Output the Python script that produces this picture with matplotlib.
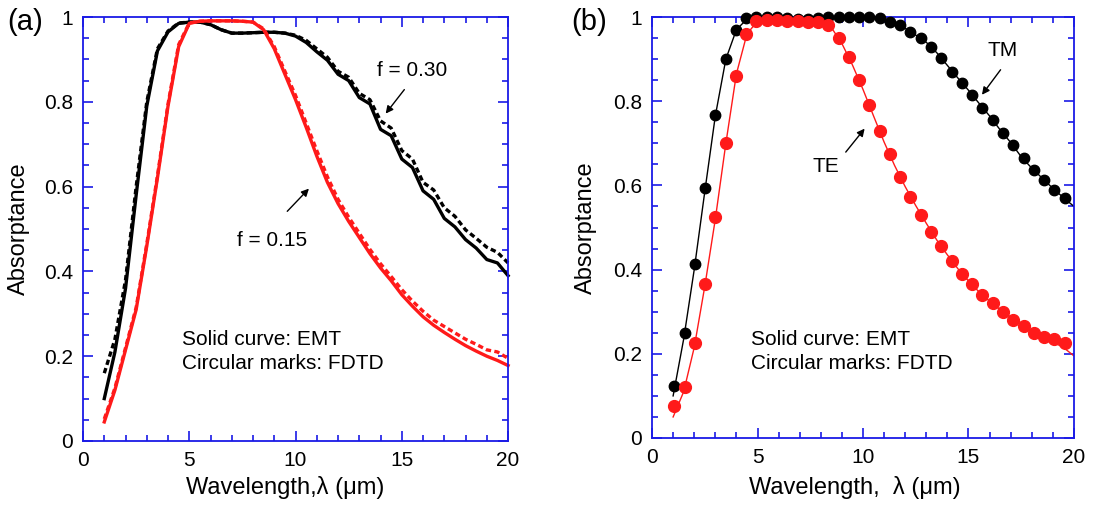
import numpy as np
import matplotlib
matplotlib.use('Agg')
import matplotlib.pyplot as plt
from matplotlib.ticker import MultipleLocator, FuncFormatter

plt.rcParams['font.family'] = ['Liberation Sans', 'DejaVu Sans']

# (a) EMT (solid) vs FDTD (dashed), two filling ratios
wl_a = np.arange(1.0, 20.01, 0.5)
a_f30_emt = [0.10, 0.21, 0.36, 0.58, 0.79, 0.92, 0.965, 0.985, 0.988, 0.988,
             0.982, 0.97, 0.962, 0.962, 0.963, 0.964, 0.964, 0.962, 0.955, 0.94,
             0.918, 0.898, 0.865, 0.85, 0.81, 0.795, 0.735, 0.72, 0.665, 0.645,
             0.59, 0.57, 0.525, 0.505, 0.475, 0.455, 0.428, 0.42, 0.39]
a_f30_fdtd = [0.16, 0.24, 0.38, 0.60, 0.80, 0.925, 0.967, 0.986, 0.988, 0.988,
              0.982, 0.97, 0.962, 0.962, 0.963, 0.964, 0.964, 0.962, 0.957, 0.945,
              0.925, 0.905, 0.872, 0.858, 0.82, 0.805, 0.755, 0.738, 0.685, 0.665,
              0.61, 0.592, 0.55, 0.53, 0.498, 0.478, 0.457, 0.445, 0.42]
a_f15_emt = [0.045, 0.12, 0.215, 0.31, 0.46, 0.62, 0.79, 0.93, 0.985, 0.99,
             0.991, 0.991, 0.991, 0.99, 0.988, 0.97, 0.925, 0.865, 0.805, 0.74,
             0.672, 0.61, 0.56, 0.518, 0.48, 0.442, 0.408, 0.378, 0.345, 0.318,
             0.293, 0.273, 0.256, 0.24, 0.225, 0.212, 0.20, 0.19, 0.178]
a_f15_fdtd = [0.052, 0.125, 0.22, 0.315, 0.465, 0.625, 0.795, 0.935, 0.986, 0.99,
              0.991, 0.991, 0.991, 0.99, 0.988, 0.972, 0.93, 0.872, 0.815, 0.75,
              0.685, 0.623, 0.57, 0.528, 0.49, 0.452, 0.418, 0.388, 0.357, 0.33,
              0.306, 0.285, 0.27, 0.255, 0.24, 0.228, 0.215, 0.21, 0.195]

# (b) TM / TE: EMT curves and FDTD points
wl_b = np.arange(1.0, 20.01, 0.5)
tm_emt = [0.10, 0.235, 0.40, 0.585, 0.765, 0.90, 0.97, 0.995, 1.0, 1.0,
          0.999, 0.997, 0.995, 0.995, 0.997, 0.999, 1.0, 1.0, 1.0, 0.998,
          0.993, 0.985, 0.973, 0.957, 0.94, 0.915, 0.885, 0.855, 0.826, 0.795,
          0.765, 0.732, 0.702, 0.668, 0.641, 0.617, 0.593, 0.571, 0.55]
te_emt = [0.05, 0.11, 0.215, 0.36, 0.52, 0.70, 0.865, 0.96, 0.99, 0.993,
          0.993, 0.99, 0.99, 0.988, 0.987, 0.975, 0.937, 0.886, 0.828, 0.765,
          0.703, 0.647, 0.597, 0.552, 0.51, 0.47, 0.435, 0.402, 0.373, 0.347,
          0.325, 0.305, 0.287, 0.27, 0.254, 0.24, 0.228, 0.215, 0.195]

wl_fdtd = [1.05, 1.54, 2.02, 2.51, 3.0, 3.49, 3.97, 4.46, 4.95, 5.43,
           5.92, 6.41, 6.9, 7.38, 7.87, 8.36, 8.84, 9.33, 9.82, 10.3,
           10.79, 11.28, 11.76, 12.25, 12.74, 13.23, 13.71, 14.2, 14.69, 15.17,
           15.66, 16.15, 16.64, 17.12, 17.61, 18.1, 18.58, 19.07, 19.56]
tm_fdtd = [0.124, 0.25, 0.413, 0.593, 0.767, 0.90, 0.97, 0.997, 1.0, 1.0,
           0.999, 0.997, 0.995, 0.995, 0.997, 0.999, 1.0, 1.0, 1.0, 0.999,
           0.997, 0.989, 0.981, 0.965, 0.949, 0.929, 0.902, 0.87, 0.843, 0.815,
           0.785, 0.755, 0.725, 0.695, 0.664, 0.637, 0.613, 0.589, 0.569]
te_fdtd = [0.075, 0.122, 0.226, 0.366, 0.525, 0.70, 0.86, 0.96, 0.99, 0.993,
           0.993, 0.99, 0.99, 0.988, 0.988, 0.98, 0.95, 0.905, 0.85, 0.79,
           0.73, 0.675, 0.62, 0.573, 0.53, 0.49, 0.455, 0.42, 0.39, 0.365,
           0.34, 0.32, 0.30, 0.28, 0.265, 0.25, 0.24, 0.235, 0.226]

RED = '#ff1a1a'
BLUE = '#1a1ae6'
FS = 15
LFS = 17

fig = plt.figure(figsize=(10.94, 5.08), dpi=100)
ax1 = fig.add_axes([0.0759, 0.1319, 0.3885, 0.8346])
ax2 = fig.add_axes([0.596, 0.1378, 0.3857, 0.8287])


def style(ax):
    ax.set_xlim(0, 20)
    ax.set_ylim(0, 1)
    ax.xaxis.set_major_locator(MultipleLocator(5))
    ax.xaxis.set_minor_locator(MultipleLocator(1))
    ax.yaxis.set_major_locator(MultipleLocator(0.2))
    ax.yaxis.set_minor_locator(MultipleLocator(0.05))
    ax.yaxis.set_major_formatter(FuncFormatter(lambda v, p: '%g' % round(v, 2)))
    ax.tick_params(which='both', direction='in', top=True, right=True,
                   color=BLUE, width=1.2, labelsize=FS)
    ax.tick_params(which='major', length=7, pad=7)
    ax.tick_params(which='minor', length=4)
    for s in ax.spines.values():
        s.set_color(BLUE)
        s.set_linewidth(1.3)
    ax.set_ylabel('Absorptance', fontsize=LFS)


# panel (a)
style(ax1)
ax1.plot(wl_a, a_f30_emt, color='k', lw=2.4, clip_on=False)
ax1.plot(wl_a, a_f30_fdtd, color='k', lw=2.4, dashes=(1.6, 1.0), clip_on=False)
ax1.plot(wl_a, a_f15_emt, color=RED, lw=2.4, clip_on=False)
ax1.plot(wl_a, a_f15_fdtd, color=RED, lw=2.4, dashes=(1.6, 1.0), clip_on=False)
ax1.set_xlabel('Wavelength,\u03bb (\u03bcm)', fontsize=LFS)
ax1.xaxis.set_label_coords(0.475, -0.083)
ax1.yaxis.set_label_coords(-0.125, 0.5)
ax1.text(13.85, 0.873, 'f = 0.30', fontsize=FS, va='center')
ax1.annotate('', xy=(14.16, 0.767), xytext=(15.2, 0.834),
             arrowprops=dict(arrowstyle='-|>', color='k', lw=1, mutation_scale=11))
ax1.text(7.25, 0.474, 'f = 0.15', fontsize=FS, va='center')
ax1.annotate('', xy=(10.72, 0.60), xytext=(9.52, 0.537),
             arrowprops=dict(arrowstyle='-|>', color='k', lw=1, mutation_scale=11))
ax1.text(4.64, 0.24, 'Solid curve: EMT', fontsize=FS, va='center')
ax1.text(4.64, 0.183, 'Circular marks: FDTD', fontsize=FS, va='center')

# panel (b)
style(ax2)
ax2.plot(wl_b, tm_emt, color='k', lw=1.0)
ax2.plot(wl_b, te_emt, color=RED, lw=1.0)
ax2.plot(wl_fdtd, tm_fdtd, 'o', color='k', ms=7.5, clip_on=False, zorder=3)
ax2.plot(wl_fdtd, te_fdtd, 'o', color=RED, ms=8.5, clip_on=False, zorder=3)
ax2.set_xlabel('Wavelength,  \u03bb (\u03bcm)', fontsize=LFS)
ax2.xaxis.set_label_coords(0.48, -0.09)
ax2.yaxis.set_label_coords(-0.13, 0.5)
ax2.text(15.9, 0.92, 'TM', fontsize=FS, va='center')
ax2.annotate('', xy=(15.56, 0.81), xytext=(16.6, 0.88),
             arrowprops=dict(arrowstyle='-|>', color='k', lw=1, mutation_scale=11))
ax2.text(7.6, 0.645, 'TE', fontsize=FS, va='center')
ax2.annotate('', xy=(10.16, 0.74), xytext=(9.1, 0.674),
             arrowprops=dict(arrowstyle='-|>', color='k', lw=1, mutation_scale=11))
ax2.text(4.68, 0.234, 'Solid curve: EMT', fontsize=FS, va='center')
ax2.text(4.68, 0.178, 'Circular marks: FDTD', fontsize=FS, va='center')

fig.text(0.007, 0.956, '(a)', fontsize=21, va='center')
fig.text(0.522, 0.956, '(b)', fontsize=21, va='center')

fig.savefig('out.png', dpi=100)
